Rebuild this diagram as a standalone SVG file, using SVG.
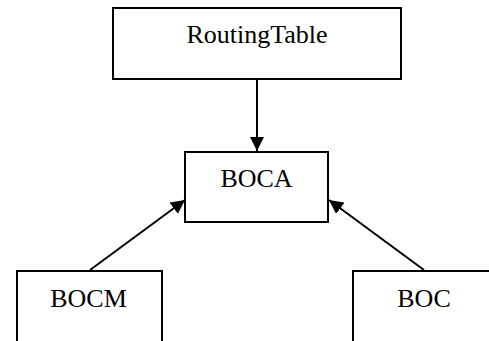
<svg xmlns="http://www.w3.org/2000/svg" width="489" height="341" viewBox="0 0 489 341">
  <style>
    .box { fill: #ffffff; stroke: #000000; stroke-width: 2; }
    .label { font-family: "Liberation Serif", "Times New Roman", serif; font-size: 26px; fill: #000000; text-anchor: middle; }
    .edge { stroke: #000000; stroke-width: 2; fill: none; marker-end: url(#arrow); }
  </style>
  <defs>
    <marker id="arrow" viewBox="0 0 14 14" refX="14" refY="7" markerWidth="14" markerHeight="14" markerUnits="userSpaceOnUse" orient="auto">
      <path d="M0,0 L14,7 L0,14 Z" fill="#000000"/>
    </marker>
  </defs>
  <rect width="489" height="341" fill="#ffffff"/>

  <g id="connectors">
    <line class="edge" x1="257" y1="79" x2="257" y2="151"/>
    <line class="edge" x1="90" y1="270" x2="185" y2="200"/>
    <line class="edge" x1="424" y1="270" x2="329" y2="200"/>
  </g>

  <g id="node-routingtable">
    <rect class="box" x="113" y="8" width="288" height="71"/>
    <text class="label" x="257" y="43">RoutingTable</text>
  </g>

  <g id="node-boca">
    <rect class="box" x="185" y="152" width="143" height="70"/>
    <text class="label" x="256.5" y="187">BOCA</text>
  </g>

  <g id="node-bocm">
    <rect class="box" x="17" y="271" width="145" height="80"/>
    <text class="label" x="88.5" y="307">BOCM</text>
  </g>

  <g id="node-boc">
    <rect class="box" x="353" y="271" width="150" height="80"/>
    <text class="label" x="424" y="307">BOC</text>
  </g>
</svg>
